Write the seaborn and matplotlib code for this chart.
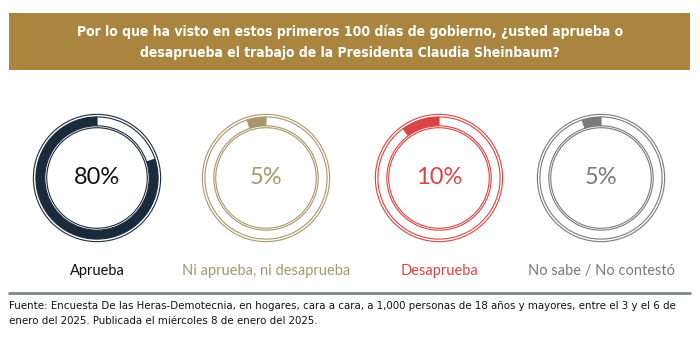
import matplotlib
matplotlib.use("Agg")
import matplotlib.pyplot as plt
import seaborn as sns
from matplotlib.patches import Rectangle, Circle

# data
categories = ["Aprueba", "Ni aprueba, ni desaprueba", "Desaprueba", "No sabe / No contestó"]
values = [80, 5, 10, 5]
colors = ["#1c2b3c", "#a8976a", "#d94545", "#7a7a7a"]
label_colors = ["#111111", "#a8976a", "#d94545", "#7a7a7a"]

title = ("Por lo que ha visto en estos primeros 100 días de gobierno, ¿usted aprueba o\n"
         "desaprueba el trabajo de la Presidenta Claudia Sheinbaum?")
source = ("Fuente: Encuesta De las Heras-Demotecnia, en hogares, cara a cara, a 1,000 personas de 18 años y mayores, entre el 3 y el 6 de\n"
          "enero del 2025. Publicada el miércoles 8 de enero del 2025.")

sns.set_theme(style="white")
body = ["Lato", "DejaVu Sans"]

W, H = 700, 354
fig = plt.figure(figsize=(7, 3.54), dpi=100)
fig.patch.set_facecolor("white")

# header band
fig.patches.append(Rectangle((9 / W, 1 - 70 / H), 681 / W, 57 / H, transform=fig.transFigure,
                             facecolor="#a9853f", edgecolor="none", zorder=0))
fig.text(0.5, 1 - 42 / H, title, ha="center", va="center", color="white", fontsize=10,
         fontweight="bold", family="DejaVu Sans", fontstretch="condensed", linespacing=1.65)

centers = [97, 266, 439, 601]
size = 140
for cx, cat, val, col, lcol in zip(centers, categories, values, colors, label_colors):
    ax = fig.add_axes([(cx - size / 2) / W, (176 - size / 2) / H, size / W, size / H])
    ax.pie([val, 100 - val], startangle=90, counterclock=True, radius=0.96,
           colors=[col, "white"],
           wedgeprops=dict(width=0.14, edgecolor=col, linewidth=0.8))
    ax.add_patch(Circle((0, 0), 1.0, fill=False, edgecolor=col, linewidth=0.8))
    ax.add_patch(Circle((0, 0), 0.79, fill=False, edgecolor=col, linewidth=0.8))
    ax.text(0, 0.0, f"{val}%", ha="center", va="center", fontsize=17,
            color=col if val != 80 else "#111111", family=body)
    ax.set_xlim(-1.1, 1.1)
    ax.set_ylim(-1.1, 1.1)
    ax.set_aspect("equal")
    ax.axis("off")
    fig.text(cx / W, 1 - 271 / H, cat, ha="center", va="center", fontsize=10.5, color=lcol, family=body)

# footer
fig.add_artist(plt.Line2D([9 / W, 690 / W], [1 - 293 / H, 1 - 293 / H], transform=fig.transFigure,
                          color="#7f8590", linewidth=2))
fig.text(9 / W, 1 - 301 / H, source, ha="left", va="top", fontsize=8.2, color="#111111",
         family="DejaVu Sans", fontstretch="condensed", linespacing=1.6)

fig.savefig("out.png", dpi=100)
